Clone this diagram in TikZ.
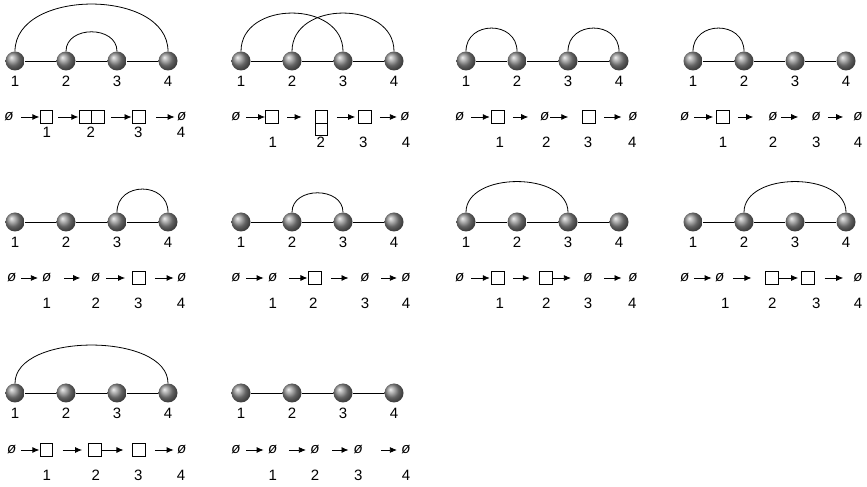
\documentclass[tikz,border=0pt]{standalone}
\usepackage{fontspec}
\setmainfont{Liberation Sans}
\usetikzlibrary{arrows.meta,positioning}
\tikzset{
  sphere/.style={circle, inner sep=0pt, minimum size=19pt, shading=ball, ball color=black!45},
  num/.style={inner sep=0pt, font=\fontsize{15}{17}\selectfont},
  emp/.style={inner sep=0pt, font=\fontsize{15}{17}\selectfont\itshape},
  box/.style={draw, inner sep=0pt, outer sep=0pt, minimum size=12.5pt, line width=0.7pt},
  arr/.style={-{Latex[length=7pt,width=6pt]}, line width=0.8pt},
  gap/.style 2 args={shorten <=#1pt, shorten >=#2pt},
  bond/.style={line width=0.8pt}
}
\begin{document}
\begin{tikzpicture}[x=1pt,y=1pt]
  \useasboundingbox (0,0) rectangle (867,487);

  % the ten chains of four spheres
  \foreach \k/\ox/\oy in {1/15/426, 2/241/426, 3/466/426, 4/693/426,
      5/15/265, 6/241/265, 7/466/265, 8/693/265, 9/15/94, 10/241/94} {
    \foreach \i in {1,...,4} {
      \node[sphere] (p\k-\i) at ({\ox+(\i-1)*51},\oy) {};
      \node[num] (p\k-n\i) at ({\ox+(\i-1)*51},\oy-20) {\i};
    }
    \draw[bond] (p\k-1) -- (p\k-2) -- (p\k-3) -- (p\k-4);
  }

  % arcs
  \draw[bond] (p1-1.north) .. controls +(0,63) and +(0,63) .. (p1-4.north);
  \draw[bond] (p1-2.north) .. controls +(0,26) and +(0,26) .. (p1-3.north);
  \draw[bond] (p2-1.north) .. controls +(0,51) and +(0,51) .. (p2-3.north);
  \draw[bond] (p2-2.north) .. controls +(0,51) and +(0,51) .. (p2-4.north);
  \draw[bond] (p3-1.north) .. controls +(0,31) and +(0,31) .. (p3-2.north);
  \draw[bond] (p3-3.north) .. controls +(0,31) and +(0,31) .. (p3-4.north);
  \draw[bond] (p4-1.north) .. controls +(0,31) and +(0,31) .. (p4-2.north);
  \draw[bond] (p5-3.north) .. controls +(0,31) and +(0,31) .. (p5-4.north);
  \draw[bond] (p6-2.north) .. controls +(0,26) and +(0,26) .. (p6-3.north);
  \draw[bond] (p7-1.north) .. controls +(0,41) and +(0,41) .. (p7-3.north);
  \draw[bond] (p8-2.north) .. controls +(0,41) and +(0,41) .. (p8-4.north);
  \draw[bond] (p9-1.north) .. controls +(0,51) and +(0,51) .. (p9-4.north);

  % panel 1
  \begin{scope}[shift={(15,370)}]
    \node[emp] (r1-0) at (-6,0) {ø};
    \node[box] (r1-1) at (31.3,0) {};
    \node[box] (r1-2) at (70.3,0) {};
    \node[box, right=0pt of r1-2] (r1-2b) {};
    \node[box] (r1-3) at (123.8,0) {};
    \node[emp] (r1-4) at (166.7,0) {ø};
    \draw[arr, gap={7.7}{0.7}] (r1-0) -- (r1-1);
    \draw[arr, gap={5.7}{0.7}] (r1-1) -- (r1-2);
    \draw[arr, gap={7.3}{1}] (r1-2b) -- (r1-3);
    \draw[arr, gap={11}{2.3}] (r1-3) -- (r1-4);
    \node[num] (r1-s1) at (31.7,-15) {1};
    \node[num] (r1-s2) at (75.7,-15) {2};
    \node[num] (r1-s3) at (123.3,-15) {3};
    \node[num] (r1-s4) at (166,-15) {4};
  \end{scope}

  % panel 2
  \begin{scope}[shift={(241,370)}]
    \node[emp] (r2-0) at (-5,0) {ø};
    \node[box] (r2-1) at (31,0) {};
    \node[box] (r2-2) at (80.2,0) {};
    \node[box, below=0pt of r2-2] (r2-2b) {};
    \node[box] (r2-3) at (123.7,0) {};
    \node[emp] (r2-4) at (164,0) {ø};
    \draw[arr, gap={5.7}{0.7}] (r2-0) -- (r2-1);
    \draw[arr, gap={9}{13.3}] (r2-1) -- (r2-2);
    \draw[arr, gap={9.3}{3.3}] (r2-2) -- (r2-3);
    \draw[arr, gap={9}{3.3}] (r2-3) -- (r2-4);
    \node[num] (r2-s1) at (31.7,-25) {1};
    \node[num] (r2-s2) at (79.7,-25) {2};
    \node[num] (r2-s3) at (122.3,-25) {3};
    \node[num] (r2-s4) at (165,-25) {4};
  \end{scope}

  % panel 3
  \begin{scope}[shift={(466,370)}]
    \node[emp] (r3-0) at (-6.3,0) {ø};
    \node[box] (r3-1) at (31.7,0) {};
    \node[emp] (r3-2) at (78.7,0) {ø};
    \node[box] (r3-3) at (122.8,0) {};
    \node[emp] (r3-4) at (167,0) {ø};
    \draw[arr, gap={6.7}{1.7}] (r3-0) -- (r3-1);
    \draw[arr, gap={9}{11.7}] (r3-1) -- (r3-2);
    \draw[arr, gap={0.5}{14.3}] (r3-2) -- (r3-3);
    \draw[arr, gap={9.3}{6.7}] (r3-3) -- (r3-4);
    \node[num] (r3-s1) at (33.7,-25) {1};
    \node[num] (r3-s2) at (80.3,-25) {2};
    \node[num] (r3-s3) at (122,-25) {3};
    \node[num] (r3-s4) at (166.3,-25) {4};
  \end{scope}

  % panel 4
  \begin{scope}[shift={(693,370)}]
    \node[emp] (r4-0) at (-8.3,0) {ø};
    \node[box] (r4-1) at (29.7,0) {};
    \node[emp] (r4-2) at (80,0) {ø};
    \node[emp] (r4-3) at (123.3,0) {ø};
    \node[emp] (r4-4) at (165,0) {ø};
    \draw[arr, gap={5}{3.3}] (r4-0) -- (r4-1);
    \draw[arr, gap={9}{15}] (r4-1) -- (r4-2);
    \draw[arr, gap={3.3}{13.3}] (r4-2) -- (r4-3);
    \draw[arr, gap={6.7}{10}] (r4-3) -- (r4-4);
    \node[num] (r4-s1) at (30,-25) {1};
    \node[num] (r4-s2) at (80,-25) {2};
    \node[num] (r4-s3) at (123.3,-25) {3};
    \node[num] (r4-s4) at (165,-25) {4};
  \end{scope}

  % panel 5
  \begin{scope}[shift={(15,209)}]
    \node[emp] (r5-0) at (-3.3,0) {ø};
    \node[emp] (r5-1) at (31.7,0) {ø};
    \node[emp] (r5-2) at (80.7,0) {ø};
    \node[box] (r5-3) at (124,0) {};
    \node[emp] (r5-4) at (166.7,0) {ø};
    \draw[arr, gap={5}{4}] (r5-0) -- (r5-1);
    \draw[arr, gap={12.7}{10.7}] (r5-1) -- (r5-2);
    \draw[arr, gap={6}{7.7}] (r5-2) -- (r5-3);
    \draw[arr, gap={9.7}{3.3}] (r5-3) -- (r5-4);
    \node[num] (r5-s1) at (31.7,-25) {1};
    \node[num] (r5-s2) at (80.7,-25) {2};
    \node[num] (r5-s3) at (123.3,-25) {3};
    \node[num] (r5-s4) at (166,-25) {4};
  \end{scope}

  % panel 6
  \begin{scope}[shift={(241,209)}]
    \node[emp] (r6-0) at (-5,0) {ø};
    \node[emp] (r6-1) at (31.7,0) {ø};
    \node[box] (r6-2) at (73.7,0) {};
    \node[emp] (r6-3) at (124,0) {ø};
    \node[emp] (r6-4) at (165,0) {ø};
    \draw[arr, gap={5.7}{4.3}] (r6-0) -- (r6-1);
    \draw[arr, gap={11.3}{1}] (r6-1) -- (r6-2);
    \draw[arr, gap={10}{11.7}] (r6-2) -- (r6-3);
    \draw[arr, gap={11.7}{4.3}] (r6-3) -- (r6-4);
    \node[num] (r6-s1) at (31.7,-25) {1};
    \node[num] (r6-s2) at (72.3,-25) {2};
    \node[num] (r6-s3) at (124,-25) {3};
    \node[num] (r6-s4) at (165,-25) {4};
  \end{scope}

  % panel 7
  \begin{scope}[shift={(466,209)}]
    \node[emp] (r7-0) at (-6.3,0) {ø};
    \node[box] (r7-1) at (31.7,0) {};
    \node[box] (r7-2) at (80,0) {};
    \node[emp] (r7-3) at (122,0) {ø};
    \node[emp] (r7-4) at (167,0) {ø};
    \draw[arr, gap={6.7}{1.7}] (r7-0) -- (r7-1);
    \draw[arr, gap={9}{10}] (r7-1) -- (r7-2);
    \draw[arr, gap={0.7}{12.3}] (r7-2) -- (r7-3);
    \draw[arr, gap={11.7}{6.7}] (r7-3) -- (r7-4);
    \node[num] (r7-s1) at (33.7,-25) {1};
    \node[num] (r7-s2) at (80.3,-25) {2};
    \node[num] (r7-s3) at (122,-25) {3};
    \node[num] (r7-s4) at (166.3,-25) {4};
  \end{scope}

  % panel 8
  \begin{scope}[shift={(693,209)}]
    \node[emp] (r8-0) at (-8.3,0) {ø};
    \node[emp] (r8-1) at (26.7,0) {ø};
    \node[box] (r8-2) at (78.7,0) {};
    \node[box] (r8-3) at (114.7,0) {};
    \node[emp] (r8-4) at (165,0) {ø};
    \draw[arr, gap={5}{3.3}] (r8-0) -- (r8-1);
    \draw[arr, gap={8.3}{14}] (r8-1) -- (r8-2);
    \draw[arr, gap={0.7}{3.3}] (r8-2) -- (r8-3);
    \draw[arr, gap={10.7}{10}] (r8-3) -- (r8-4);
    \node[num] (r8-s1) at (32.3,-25) {1};
    \node[num] (r8-s2) at (79.3,-25) {2};
    \node[num] (r8-s3) at (123.3,-25) {3};
    \node[num] (r8-s4) at (165,-25) {4};
  \end{scope}

  % panel 9
  \begin{scope}[shift={(15,37)}]
    \node[emp] (r9-0) at (-3.3,0) {ø};
    \node[box] (r9-1) at (31.3,0) {};
    \node[box] (r9-2) at (80,0) {};
    \node[box] (r9-3) at (124,0) {};
    \node[emp] (r9-4) at (166.7,0) {ø};
    \draw[arr, gap={5}{0.7}] (r9-0) -- (r9-1);
    \draw[arr, gap={10}{6.7}] (r9-1) -- (r9-2);
    \draw[arr, gap={1}{9.3}] (r9-2) -- (r9-3);
    \draw[arr, gap={9.7}{3.3}] (r9-3) -- (r9-4);
    \node[num] (r9-s1) at (31.7,-25) {1};
    \node[num] (r9-s2) at (80.7,-25) {2};
    \node[num] (r9-s3) at (123.3,-25) {3};
    \node[num] (r9-s4) at (166,-25) {4};
  \end{scope}

  % panel 10
  \begin{scope}[shift={(241,37)}]
    \node[emp] (r10-0) at (-5,0) {ø};
    \node[emp] (r10-1) at (31.7,0) {ø};
    \node[emp] (r10-2) at (74,0) {ø};
    \node[emp] (r10-3) at (117.3,0) {ø};
    \node[emp] (r10-4) at (165,0) {ø};
    \draw[arr, gap={5.7}{4.3}] (r10-0) -- (r10-1);
    \draw[arr, gap={11.3}{4.3}] (r10-1) -- (r10-2);
    \draw[arr, gap={12.7}{5}] (r10-2) -- (r10-3);
    \draw[arr, gap={18.3}{4.3}] (r10-3) -- (r10-4);
    \node[num] (r10-s1) at (31.7,-25) {1};
    \node[num] (r10-s2) at (74,-25) {2};
    \node[num] (r10-s3) at (117.3,-25) {3};
    \node[num] (r10-s4) at (165,-25) {4};
  \end{scope}
\end{tikzpicture}
\end{document}
